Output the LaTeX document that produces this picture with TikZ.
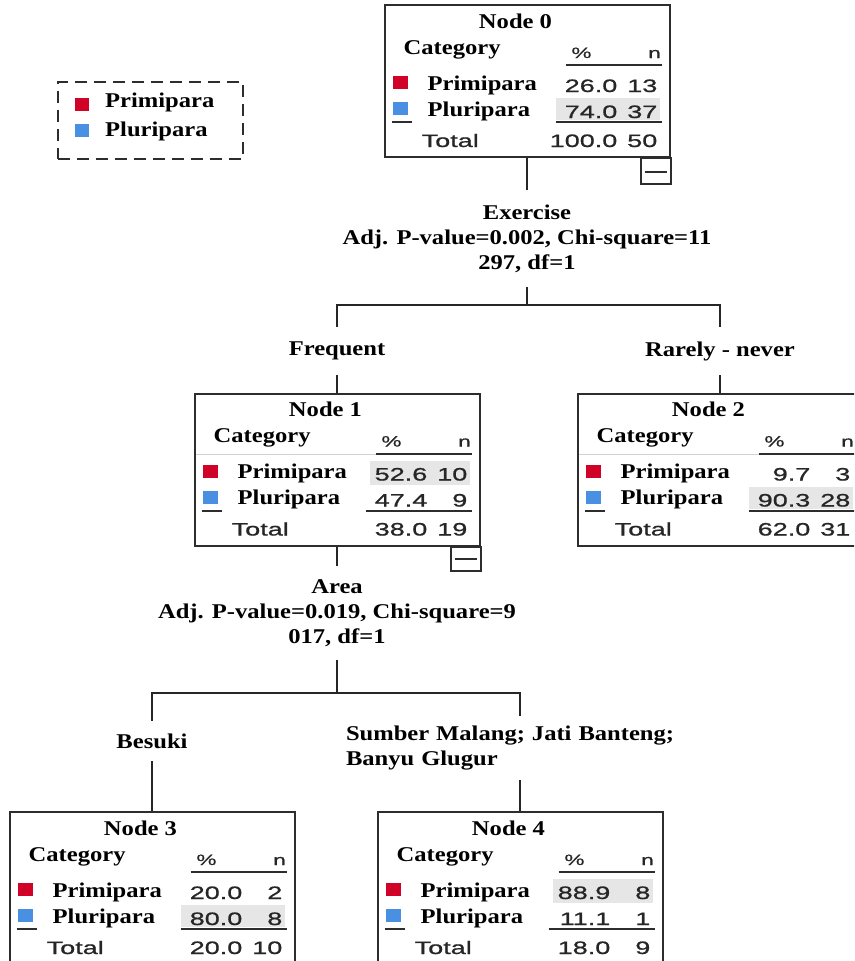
\documentclass[tikz,border=0pt]{standalone}
\usepackage{fontspec}
\setmainfont{Liberation Serif}[FakeStretch=1.17]
\newfontfamily\numfont{Liberation Sans}[FakeStretch=1.5, FakeBold=1]
\usetikzlibrary{calc,positioning}
\definecolor{primired}{RGB}{208,2,40}
\definecolor{pluriblue}{RGB}{74,144,226}
\definecolor{hlgray}{RGB}{230,230,230}
\definecolor{boxline}{RGB}{45,45,45}
\tikzset{
    treebox/.style={draw=boxline, line width=2pt, minimum width=285pt, minimum height=152pt, inner sep=0pt},
    minusbox/.style={draw=boxline, line width=2pt, minimum width=30pt, minimum height=26pt, inner sep=0pt},
    legendbox/.style={draw=boxline, line width=2pt, dash pattern=on 12pt off 7pt, minimum width=185pt, minimum height=77pt, inner sep=0pt},
    link/.style={draw=black!85, line width=2pt},
    rule/.style={draw=boxline, line width=2pt},
    labeltxt/.style={anchor=base west, inner sep=0pt, font=\fontsize{21}{25}\selectfont\bfseries},
    titletxt/.style={anchor=base, inner sep=0pt, font=\fontsize{21}{25}\selectfont\bfseries},
    splittxt/.style={align=center, inner sep=0pt, font=\fontsize{21}{25}\selectfont\bfseries},
    numtxt/.style={anchor=base east, inner sep=0pt, text=black!85, font=\numfont\fontsize{18}{20}\selectfont},
    totaltxt/.style={anchor=base west, inner sep=0pt, text=black!85, font=\numfont\fontsize{18}{20}\selectfont},
    headtxt/.style={anchor=base, inner sep=0pt, text=black!85, font=\numfont\fontsize{15}{18}\selectfont},
    primi/.style={fill=primired},
    pluri/.style={fill=pluriblue},
    hlrow/.style={fill=hlgray}
}
% table inside a tree node: name, title, % and n of both rows, total, shaded row
\newcommand{\nodetable}[9]{%
    \ifnum#9=1
        \fill[hlrow] ($(#1.north west)+(176,68)$) rectangle ($(#1.north west)+(276,92)$);
    \else
        \fill[hlrow] ($(#1.north west)+(172,94)$) rectangle ($(#1.north west)+(276,116)$);
    \fi
    \node[titletxt] (#1-title) at ($(#1.north west)+(132,24)$) {#2};
    \node[labeltxt] (#1-cat) at ($(#1.north west)+(20,50)$) {Category};
    \node[headtxt] (#1-pct) at ($(#1.north west)+(198,54)$) {\%};
    \node[headtxt] (#1-n) at ($(#1.north west)+(271,54)$) {n};
    \draw[rule] ($(#1.north west)+(182,61)$) -- ($(#1.north west)+(278,61)$);
    \fill[primi] ($(#1.north west)+(9,72)$) rectangle ($(#1.north west)+(24,85)$);
    \node[labeltxt] (#1-pri) at ($(#1.north west)+(44,86)$) {Primipara};
    \node[numtxt] (#1-p1) at ($(#1.north west)+(234,88)$) {#3};
    \node[numtxt] (#1-n1) at ($(#1.north west)+(274,88)$) {#4};
    \fill[pluri] ($(#1.north west)+(9,98)$) rectangle ($(#1.north west)+(24,111)$);
    \draw[rule] ($(#1.north west)+(8,118)$) -- ($(#1.north west)+(28,118)$);
    \node[labeltxt] (#1-plu) at ($(#1.north west)+(44,112)$) {Pluripara};
    \node[numtxt] (#1-p2) at ($(#1.north west)+(234,114)$) {#5};
    \node[numtxt] (#1-n2) at ($(#1.north west)+(274,114)$) {#6};
    \draw[rule] ($(#1.north west)+(172,118)$) -- ($(#1.north west)+(278,118)$);
    \node[totaltxt] (#1-tot) at ($(#1.north west)+(38,143)$) {Total};
    \node[numtxt] (#1-pt) at ($(#1.north west)+(234,143)$) {#7};
    \node[numtxt] (#1-nt) at ($(#1.north west)+(274,143)$) {#8};
}

\begin{document}
\begin{tikzpicture}[x=1pt, y=-1pt]
    \useasboundingbox (0,0) rectangle (854,961);
    \clip (0,0) rectangle (854,961);

    % legend
    \node[legendbox] (legend) at (150,120) {};
    \fill[primi] (75,98) rectangle (89,111);
    \node[labeltxt] (leg-pri) at (105,107) {Primipara};
    \fill[pluri] (75,124) rectangle (89,137);
    \node[labeltxt] (leg-plu) at (105,136) {Pluripara};

    % tree nodes
    \node[treebox] (n0) at (527,81) {};
    \node[treebox] (n1) at (337,469.5) {};
    \node[treebox] (n2) at (720,469.5) {};
    \node[treebox] (n3) at (152,888) {};
    \node[treebox] (n4) at (520,888) {};
    \nodetable{n0}{Node 0}{26.0}{13}{74.0}{37}{100.0}{50}{2}
    \nodetable{n1}{Node 1}{52.6}{10}{47.4}{9}{38.0}{19}{1}
    \nodetable{n2}{Node 2}{9.7}{3}{90.3}{28}{62.0}{31}{2}
    \nodetable{n3}{Node 3}{20.0}{2}{80.0}{8}{20.0}{10}{2}
    \nodetable{n4}{Node 4}{88.9}{8}{11.1}{1}{18.0}{9}{1}
    \draw[gray!35, line width=1pt] ($(n1.north west)+(2,62)$) -- ($(n1.north west)+(182,62)$);
    \draw[gray!35, line width=1pt] ($(n2.north west)+(2,62)$) -- ($(n2.north west)+(182,62)$);

    % collapse buttons
    \node[minusbox] (n0-btn) at ($(n0.south east)+(-15,13)$) {};
    \draw[rule] ($(n0-btn.center)+(-11,1)$) -- ($(n0-btn.center)+(11,1)$);
    \node[minusbox, minimum height=24pt] (n1-btn) at ($(n1.south east)+(-15,12)$) {};
    \draw[rule] ($(n1-btn.center)+(-11,0)$) -- ($(n1-btn.center)+(11,0)$);

    % splits
    \node[splittxt, minimum height=97pt] (exer) at (527,238.5)
        {Exercise\\Adj. P-value=0.002, Chi-square=11\\297, df=1};
    \node[splittxt, minimum height=48pt] (freq) at (337,351) {Frequent};
    \node[splittxt, minimum height=48pt] (rare) at (720,351) {Rarely - never};
    \node[splittxt, minimum height=94pt] (area) at (337,613)
        {Area\\Adj. P-value=0.019, Chi-square=9\\017, df=1};
    \node[splittxt, minimum height=40pt] (besuki) at (152,741) {Besuki};
    \node[splittxt, align=left, text width=348pt, minimum height=64pt] (sumber) at (520,748)
        {Sumber Malang; Jati Banteng;\\Banyu Glugur};

    % connectors
    \draw[link] (n0) -- (exer);
    \draw[link] (exer.south) -- ++(0,18) -| (freq.north);
    \draw[link] (exer.south) ++(0,18) -| (rare.north);
    \draw[link] (freq) -- (n1);
    \draw[link] (rare) -- (n2);
    \draw[link] (n1) -- (area);
    \draw[link] (area.south) -- ++(0,33) -| (besuki.north);
    \draw[link] (area.south) ++(0,33) -| (sumber.north);
    \draw[link] (besuki) -- (n3);
    \draw[link] (sumber) -- (n4);
\end{tikzpicture}
\end{document}
